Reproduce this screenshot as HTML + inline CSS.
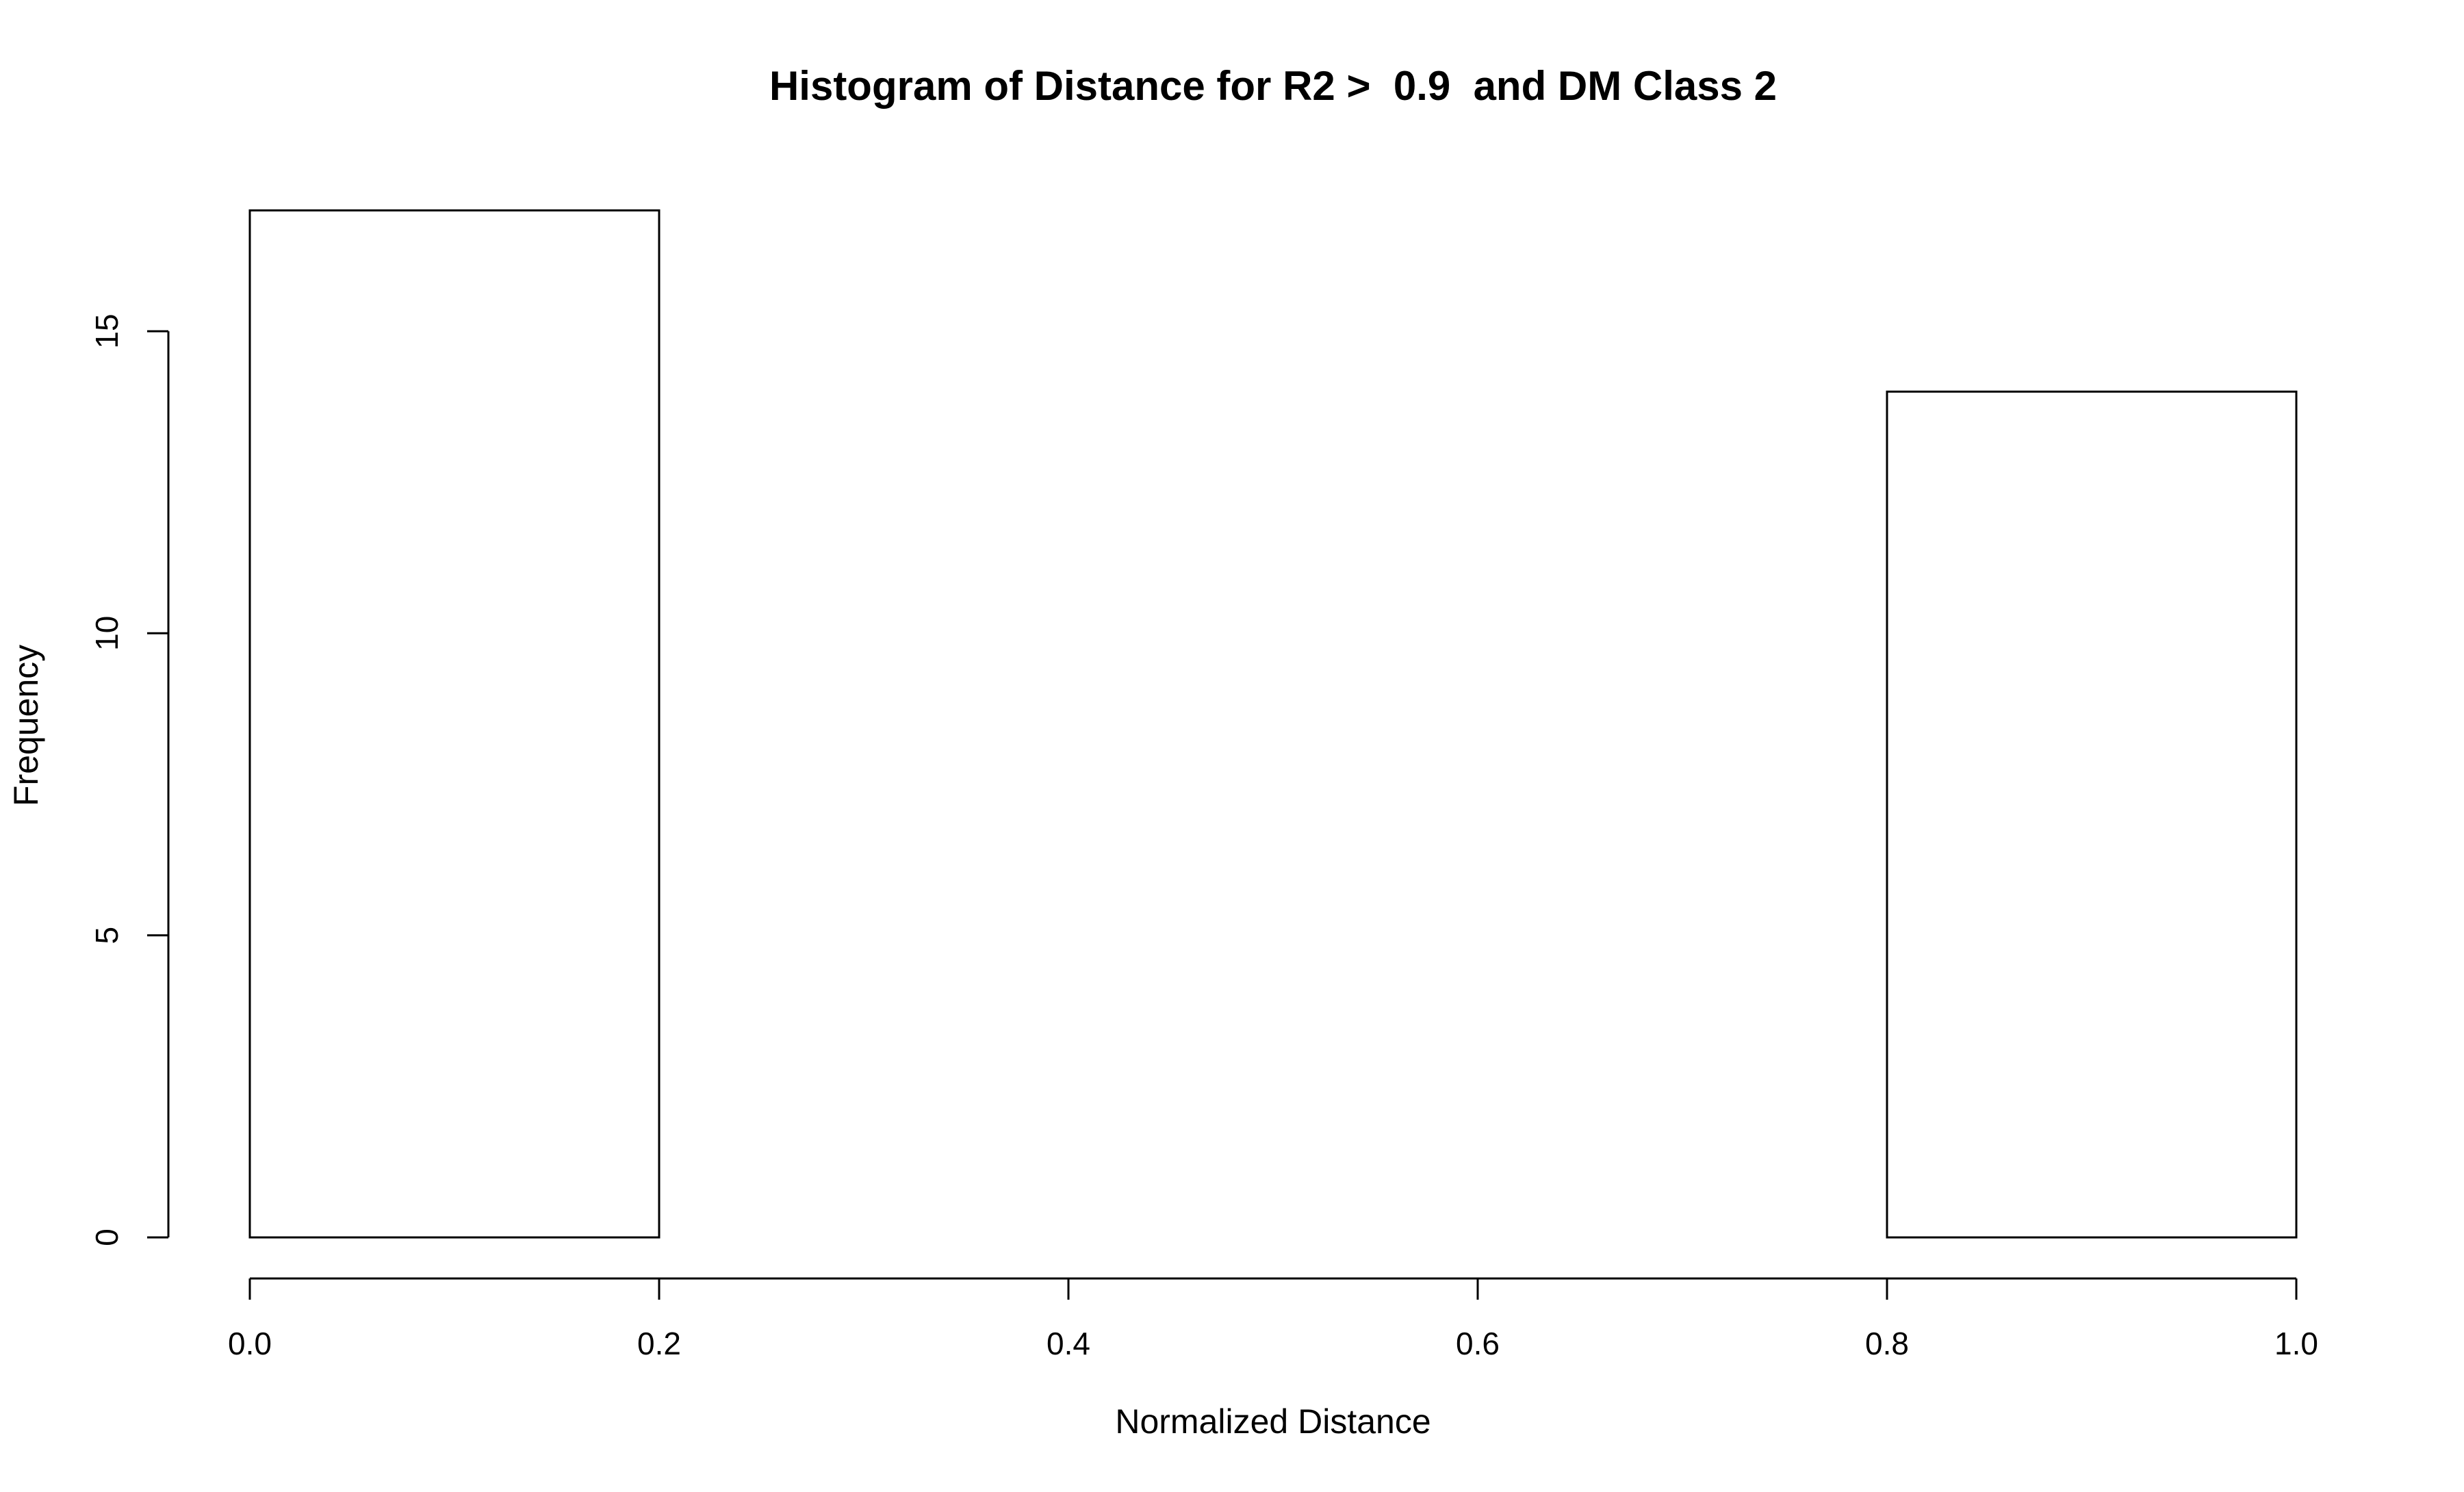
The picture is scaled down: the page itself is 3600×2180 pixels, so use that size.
<!DOCTYPE html>
<html><head><meta charset="utf-8"><style>
html,body{margin:0;padding:0;background:#fff;}
svg text{font-family:"Liberation Sans",Arial,sans-serif;fill:#000;}
</style></head><body>
<svg id="chart" width="3600" height="2175" viewBox="0 0 3600 2175" xmlns="http://www.w3.org/2000/svg">
<rect width="3600" height="2175" fill="#fff"/>
<text x="1860" y="146" text-anchor="middle" font-size="60" font-weight="bold" xml:space="preserve">Histogram of Distance for R2 &gt;  0.9  and DM Class 2</text>
<text x="1860" y="2094" text-anchor="middle" font-size="50">Normalized Distance</text>
<text transform="translate(55,1060) rotate(-90)" text-anchor="middle" font-size="50">Frequency</text>
<g id="bars"></g>
<g id="xaxis"></g>
<g id="yaxis"></g>
</svg>
<script>
const breaks = [0, 0.2, 0.4, 0.6, 0.8, 1.0];
const counts = [17, 0, 0, 0, 14];
const xTicks = [0, 0.2, 0.4, 0.6, 0.8, 1.0];
const xTickLabels = ["0.0", "0.2", "0.4", "0.6", "0.8", "1.0"];
const yTicks = [0, 5, 10, 15];
const yTickLabels = ["0", "5", "10", "15"];

const NS = "http://www.w3.org/2000/svg";
function sx(v){ return 365 + (v - 0) / (1 - 0) * 2990; }
function sy(v){ return 1808 - v * 88.27; }
function mk(tag, attrs, parent){
  const e = document.createElementNS(NS, tag);
  for (const k in attrs) e.setAttribute(k, attrs[k]);
  parent.appendChild(e);
  return e;
}
const bars = document.getElementById('bars');
for (let i = 0; i < counts.length; i++) {
  const x0 = sx(breaks[i]), x1 = sx(breaks[i+1]);
  const y = sy(counts[i]);
  const r = mk('rect', {x: x0, y: y, width: x1 - x0, height: sy(0) - y, fill: 'none', stroke: '#000', 'stroke-width': 3}, bars);
  
  
}
const xa = document.getElementById('xaxis');
const xl = mk('line', {x1: sx(xTicks[0]), x2: sx(xTicks[xTicks.length-1]), y1: 1868, y2: 1868, stroke: '#000', 'stroke-width': 3}, xa);


xTicks.forEach((v, i) => {
  const t = mk('line', {x1: sx(v), x2: sx(v), y1: 1868, y2: 1899, stroke: '#000', 'stroke-width': 3}, xa);
  
  
  const tx = mk('text', {x: sx(v), y: 1979, 'text-anchor': 'middle', 'font-size': 46}, xa);
  tx.textContent = xTickLabels[i];
  
  
});
const ya = document.getElementById('yaxis');
const yl = mk('line', {x1: 246, x2: 246, y1: sy(yTicks[0]), y2: sy(yTicks[yTicks.length-1]), stroke: '#000', 'stroke-width': 3}, ya);


yTicks.forEach((v, i) => {
  const t = mk('line', {x1: 215, x2: 246, y1: sy(v), y2: sy(v), stroke: '#000', 'stroke-width': 3}, ya);
  
  
  const tx = mk('text', {transform: 'translate(172,' + sy(v) + ') rotate(-90)', 'text-anchor': 'middle', 'font-size': 46}, ya);
  tx.textContent = yTickLabels[i];
  
  
});
</script>
</body></html>
